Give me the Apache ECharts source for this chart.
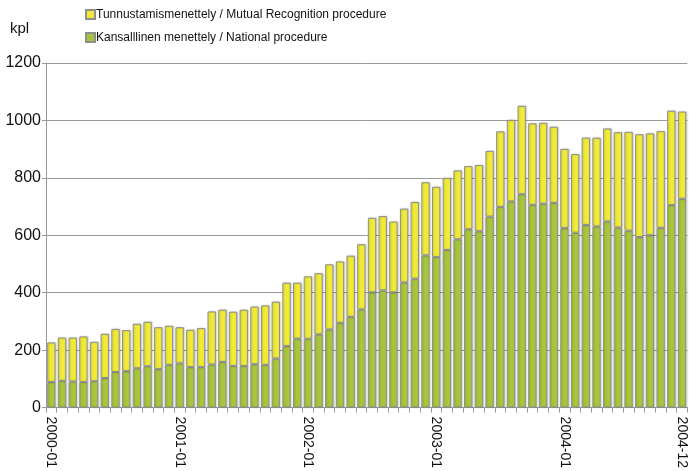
<!DOCTYPE html>
<html>
<head>
<meta charset="utf-8">
<script src="https://cdn.jsdelivr.net/npm/echarts@6/dist/echarts.min.js"></script>
<style>
  html, body { margin: 0; padding: 0; background: #fff; }
  #chart { width: 689px; height: 471px; }
</style>
</head>
<body>
<div id="chart"></div>
<script>
// Monthly categories 2000-01 … 2004-12
const years = ['2000', '2001', '2002', '2003', '2004'];
const months = ['01', '02', '03', '04', '05', '06', '07', '08', '09', '10', '11', '12'];
const categories = [];
years.forEach(y => months.forEach(m => categories.push(y + '-' + m)));

// Categories that carry a visible axis label
const labelledMonths = ['2000-01', '2001-01', '2002-01', '2003-01', '2004-01', '2004-12'];

// National procedure (kpl)
const nationalValues = [
  89, 93, 91, 89, 92, 103, 124, 127, 137, 144, 134, 149,
  154, 141, 141, 150, 159, 145, 145, 151, 149, 171, 214, 240,
  240, 255, 272, 295, 316, 342, 401, 408, 401, 436, 449, 530,
  524, 549, 586, 621, 614, 665, 699, 718, 743, 706, 710, 713,
  625, 609, 636, 631, 648, 627, 616, 594, 600, 626, 705, 727
];

// Mutual Recognition procedure (kpl), stacked on top
const mutualValues = [
  138, 151, 153, 159, 137, 154, 150, 143, 155, 155, 146, 136,
  126, 130, 136, 185, 182, 189, 196, 201, 207, 198, 221, 195,
  217, 213, 227, 214, 213, 227, 260, 259, 247, 257, 267, 255,
  245, 251, 240, 220, 231, 229, 263, 284, 308, 284, 282, 265,
  276, 274, 304, 309, 324, 332, 344, 358, 355, 337, 329, 304
];

const yTicks = { min: 0, max: 1200, step: 200 };

const mutualName = 'Tunnustamismenettely / Mutual Recognition procedure';
const nationalName = 'Kansalllinen menettely / National procedure';

const chart = echarts.init(document.getElementById('chart'), null, { renderer: 'canvas' });

const barStyle = (color) => ({
  color: color,
  borderColor: '#8f8f8f',
  borderWidth: 1,
  shadowColor: 'rgba(0,0,0,0.18)',
  shadowBlur: 2,
  shadowOffsetX: 1,
  shadowOffsetY: 0
});

chart.setOption({
  animation: false,
  backgroundColor: '#ffffff',
  textStyle: { fontFamily: 'Liberation Sans, Arial, sans-serif' },
  title: {
    text: 'kpl',
    left: 5,
    top: 16,
    textStyle: { fontSize: 15, fontWeight: 'normal', color: '#111' }
  },
  legend: {
    orient: 'vertical',
    left: 80,
    top: 3,
    itemWidth: 9,
    itemHeight: 9,
    itemGap: 10,
    icon: 'rect',
    data: [mutualName, nationalName],
    textStyle: { fontSize: 12, color: '#111', padding: [0, 0, 0, -4], lineHeight: 13 }
  },
  grid: { left: 46, right: 0, top: 63, bottom: 63, containLabel: false },
  xAxis: {
    type: 'category',
    data: categories,
    boundaryGap: true,
    axisLine: { lineStyle: { color: '#999', width: 1 } },
    axisTick: { show: true, interval: 0, length: 5, lineStyle: { color: '#999' } },
    axisLabel: {
      rotate: -90,
      margin: 9,
      fontSize: 14,
      color: '#111',
      interval: (i, v) => labelledMonths.indexOf(v) !== -1
    },
    splitLine: { show: false }
  },
  yAxis: {
    type: 'value',
    min: yTicks.min,
    max: yTicks.max,
    interval: yTicks.step,
    axisLine: { show: true, lineStyle: { color: '#999', width: 1 } },
    axisTick: { show: true, length: 4, lineStyle: { color: '#999' } },
    axisLabel: { fontSize: 16, color: '#111', margin: 5, formatter: v => String(v) },
    splitLine: { show: true, lineStyle: { color: '#999', width: 1 } }
  },
  series: [
    {
      name: nationalName,
      type: 'bar',
      stack: 'total',
      data: nationalValues,
      barCategoryGap: '22%',
      itemStyle: barStyle('#a8c63c')
    },
    {
      name: mutualName,
      type: 'bar',
      stack: 'total',
      data: mutualValues,
      barCategoryGap: '22%',
      itemStyle: barStyle('#f1eb38')
    }
  ]
});
</script>
</body>
</html>
